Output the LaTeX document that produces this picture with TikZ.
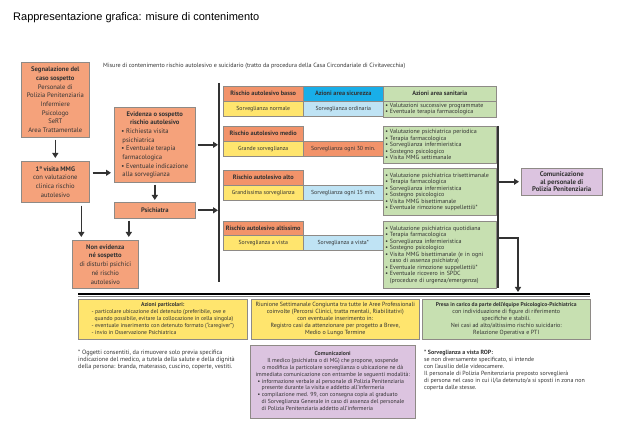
\documentclass[tikz,border=0pt]{standalone}
\usepackage{fontspec}
\setmainfont{PT Sans}
\newfontfamily\titlefont{Liberation Sans}
\usetikzlibrary{arrows.meta}
\definecolor{salmon}{HTML}{F5A27B}
\definecolor{riskorange}{HTML}{F2936A}
\definecolor{riskyellow}{HTML}{FFE56E}
\definecolor{secblue}{HTML}{19AEE8}
\definecolor{paleblue}{HTML}{BFE3F4}
\definecolor{palegreen}{HTML}{C7E0B1}
\definecolor{lilac}{HTML}{DCC4E0}
\definecolor{boxline}{HTML}{8E8A86}
\definecolor{ink}{HTML}{333333}

\begin{document}
\begin{tikzpicture}[x=1pt, y=-1pt,
  font=\fontsize{5.8}{6.2}\selectfont, text=ink,
  cell/.style={draw=boxline, line width=0.5pt, anchor=north west, inner sep=0pt,
    align=center, minimum width=80pt, minimum height=15pt},
  head/.style={cell, font=\bfseries\fontsize{6.3}{7}\selectfont},
  carebox/.style={cell, fill=palegreen, align=left, text width=109pt, inner xsep=2pt,
    font=\fontsize{6}{6.5}\selectfont},
  flowbox/.style={draw=boxline, line width=0.6pt, fill=salmon, anchor=north west,
    inner sep=1pt, align=center, font=\fontsize{6.6}{8.7}\selectfont},
  notebox/.style={draw=boxline, line width=0.5pt, anchor=north west, inner sep=1pt,
    align=center, font=\fontsize{6}{7}\selectfont},
  remark/.style={anchor=north west, inner sep=0pt, align=left, font=\fontsize{6.2}{7}\selectfont},
  arr/.style={draw=ink, line width=1.6pt, -{Triangle[length=5pt,width=6pt]}},
  bar/.style={draw=ink, line width=1.8pt}]
\useasboundingbox (0,0) rectangle (625,438);

% titles
\node[anchor=base west, inner sep=0pt, text=black,
  font=\titlefont\fontsize{11}{12}\selectfont] (title) at (13,21)
  {Rappresentazione grafica: misure di contenimento};
\node[anchor=base west, inner sep=0pt, font=\fontsize{6.1}{7}\selectfont] (subtitle) at (103,68)
  {Misure di contenimento rischio autolesivo e suicidario (tratto da procedura della Casa Circondariale di Civitavecchia)};

% left flow
\node[flowbox, minimum width=68pt, minimum height=75pt] (report) at (21,62)
  {\textbf{Segnalazione del}\\\textbf{caso sospetto}\\Personale di\\Polizia Penitenziaria\\Infermiere\\Psicologo\\SeRT\\Area Trattamentale};
\node[flowbox, minimum width=68pt, minimum height=41pt] (firstvisit) at (21,161)
  {\textbf{1ª visita MMG}\\con valutazione\\clinica rischio\\autolesivo};
\node[flowbox, minimum width=81pt, minimum height=75pt] (evidence) at (114,107)
  {\begin{tabular}{@{}l@{}}
   \multicolumn{1}{@{}c@{}}{\textbf{Evidenza o sospetto}}\\
   \multicolumn{1}{@{}c@{}}{\textbf{rischio autolesivo}}\\
   • Richiesta visita\\ \hspace{1pt}psichiatrica\\
   • Eventuale terapia\\ \hspace{1pt}farmacologica\\
   • Eventuale indicazione\\ \hspace{1pt}alla sorveglianza
   \end{tabular}};
\node[flowbox, minimum width=81pt, minimum height=16pt] (psychiatrist) at (114,202)
  {\textbf{Psichiatra}};
\node[flowbox, minimum width=66pt, minimum height=48pt] (noevidence) at (72,240)
  {\textbf{Non evidenza}\\\textbf{né sospetto}\\di disturbi psichici\\né rischio\\autolesivo};

\coordinate (ltop) at (219,83);
\coordinate (lbot) at (219,282);
\draw[bar] (ltop) -- (lbot);

\draw[arr, shorten <=2pt, shorten >=3pt] (report) -- (firstvisit);
\draw[arr, shorten <=3pt, shorten >=3pt] ([yshift=9pt]firstvisit.east) -- ([yshift=9pt]firstvisit.east -| evidence.west);
\draw[arr, shorten <=2pt, shorten >=2pt] (evidence) -- (psychiatrist);
\draw[arr, shorten <=2pt, shorten >=1pt] (evidence.east) -- (evidence.east -| ltop);
\draw[arr, shorten <=2pt, shorten >=1pt] (psychiatrist.east) -- (psychiatrist.east -| ltop);
\draw[arr, shorten <=3pt, shorten >=3pt] ([xshift=26pt]firstvisit.south) -- ([xshift=26pt]firstvisit.south |- noevidence.north);
\draw[arr, shorten <=2pt, shorten >=3pt] ([xshift=-26pt]psychiatrist.south) -- ([xshift=-26pt]psychiatrist.south |- noevidence.north);

% risk table
\node[head, fill=riskorange] (lowrisk) at (223,86) {Rischio autolesivo basso};
\node[head, fill=secblue] (sechead) at (303,86) {Azioni area sicurezza};
\node[head, fill=palegreen, minimum width=113pt] (carehead) at (383,86) {Azioni area sanitaria};
\node[cell, fill=riskyellow] (lowwatch) at (223,101) {Sorveglianza normale};
\node[cell, fill=paleblue] (lowsec) at (303,101) {Sorveglianza ordinaria};
\node[carebox, minimum height=16pt, font=\fontsize{6}{6}\selectfont] (lowcare) at (383,101)
  {• Valutazioni successive programmate\\• Eventuale terapia farmacologica};

\node[head, fill=riskorange] (midrisk) at (223,126) {Rischio autolesivo medio};
\node[cell, fill=riskyellow] (midwatch) at (223,141) {Grande sorveglianza};
\node[cell, fill=riskorange] (midsec) at (303,141) {Sorveglianza ogni 30 min.};
\node[carebox, minimum height=37pt] (midcare) at (383,126)
  {• Valutazione psichiatrica periodica\\• Terapia farmacologica\\• Sorveglianza infermieristica\\• Sostegno psicologico\\• Visita MMG settimanale};

\node[head, fill=riskorange] (highrisk) at (223,170) {Rischio autolesivo alto};
\node[cell, fill=riskyellow] (highwatch) at (223,185) {Grandissima sorveglianza};
\node[cell, fill=paleblue] (highsec) at (303,185) {Sorveglianza ogni 15 min.};
\node[carebox, minimum height=47pt] (highcare) at (383,168)
  {• Valutazione psichiatrica trisettimanale\\• Terapia farmacologica\\• Sorveglianza infermieristica\\• Sostegno psicologico\\• Visita MMG bisettimanale\\• Eventuale rimozione suppellettili*};

\node[head, fill=riskorange, minimum height=14pt] (toprisk) at (223,221) {Rischio autolesivo altissimo};
\node[cell, fill=riskyellow] (topwatch) at (223,235) {Sorveglianza a vista};
\node[cell, fill=paleblue] (topsec) at (303,235) {Sorveglianza a vista*};
\node[carebox, minimum height=67pt] (topcare) at (383,221)
  {• Valutazione psichiatrica quotidiana\\• Terapia farmacologica\\• Sorveglianza infermieristica\\• Sostegno psicologico\\• Visita MMG bisettimanale (e in ogni\\\hphantom{• }caso di assenza psichiatra)\\• Eventuale rimozione suppellettili*\\• Eventuale ricovero in SPDC\\\hphantom{• }(procedure di urgenza/emergenza)};

% right side
\coordinate (rtop) at (498,126);
\coordinate (rbot) at (498,288);
\draw[bar] (rtop) -- (rbot);
\node[notebox, fill=lilac, minimum width=81pt, minimum height=27pt,
  font=\bfseries\fontsize{6.8}{7.4}\selectfont] (notice) at (521,168)
  {Comunicazione\\al personale di\\Polizia Penitenziaria};
\draw[arr, shorten >=2pt] (notice.west -| rtop) -- (notice.west);

% bottom
\coordinate (bleft) at (78,294);
\coordinate (bright) at (590,294);
\draw[black, line width=2pt] (bleft) -- (bright);
\draw[gray, line width=0.8pt] ([yshift=-2pt]bleft) -- ([yshift=-2pt]bright);
\coordinate (branch) at (498,238);
\coordinate (drop) at (518,294);
\draw[arr, line width=1.3pt, shorten >=2pt] (branch) -- (branch -| drop) -- (drop);

\node[notebox, fill=riskyellow, minimum width=169pt, minimum height=40pt,
  font=\fontsize{5.7}{7}\selectfont] (special) at (78,299)
  {\begin{tabular}{@{}l@{}}
   \multicolumn{1}{@{}c@{}}{\textbf{Azioni particolari:}}\\
   - particolare ubicazione del detenuto (preferibile, ove e\\
   \hspace{3pt}quando possibile, evitare la collocazione in cella singola)\\
   - eventuale inserimento con detenuto formato (``caregiver'')\\
   - invio in Osservazione Psichiatrica
   \end{tabular}};
\node[notebox, fill=riskyellow, minimum width=168pt, minimum height=40pt] (meeting) at (251,299)
  {Riunione Settimanale Congiunta tra tutte le Aree Professionali\\coinvolte (Percorsi Clinici, tratta mentali, Riabilitativi)\\con eventuale inserimento in:\\Registro casi da attenzionare per progetto a Breve,\\Medio o Lungo Termine};
\node[notebox, fill=palegreen, minimum width=168pt, minimum height=40pt] (takeover) at (422,299)
  {\fontsize{5.6}{7}\selectfont\textbf{Presa in carico da parte dell'équipe Psicologico-Psichiatrica}\\con individuazione di figure di riferimento\\specifiche e stabili.\\Nei casi ad alto/altissimo rischio suicidario:\\Relazione Operativa e PTI};

\node[remark] (objects) at (78,350)
  {* Oggetti consentiti, da rimuovere solo previa specifica\\indicazione del medico, a tutela della salute e della dignità\\della persona: branda, materasso, cuscino, coperte, vestiti.};
\node[notebox, fill=lilac, minimum width=165pt, minimum height=73pt,
  font=\fontsize{5.8}{6.8}\selectfont] (messages) at (250,345)
  {\begin{tabular}{@{}l@{}}
   \multicolumn{1}{@{}c@{}}{\textbf{Comunicazioni}}\\
   \multicolumn{1}{@{}c@{}}{Il medico (psichiatra o di MG) che propone, sospende}\\
   \multicolumn{1}{@{}c@{}}{o modifica la particolare sorveglianza o ubicazione ne dà}\\
   immediata comunicazione con entrambe le seguenti modalità:\\
   \hspace{2pt}• informazione verbale al personale di Polizia Penitenziaria\\
   \hspace{6pt}presente durante la visita e addetto all'infermeria\\
   \hspace{2pt}• compilazione med. 99, con consegna copia al graduato\\
   \hspace{6pt}di Sorveglianza Generale in caso di assenza del personale\\
   \hspace{6pt}di Polizia Penitenziaria addetto all'infermeria
   \end{tabular}};
\node[remark, font=\fontsize{6}{6.9}\selectfont] (rop) at (424,350)
  {\textbf{* Sorveglianza a vista ROP:}\\se non diversamente specificato, si intende\\con l'ausilio delle videocamere.\\Il personale di Polizia Penitenziaria preposto sorveglierà\\di persona nel caso in cui il/la detenuto/a si sposti in zona non\\coperta dalle stesse.};
\end{tikzpicture}
\end{document}
